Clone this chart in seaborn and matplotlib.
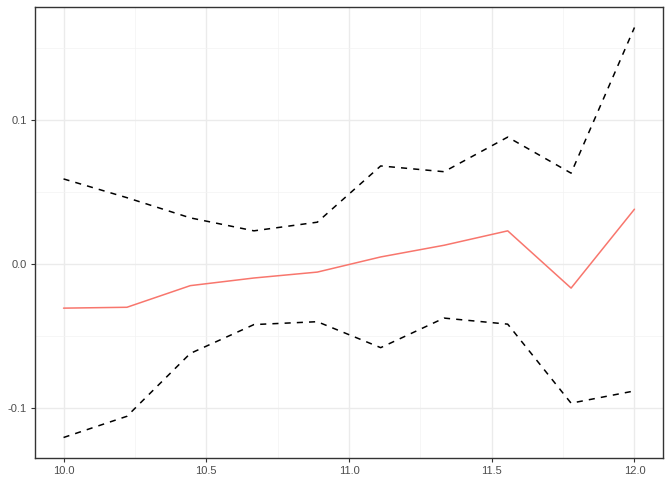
import matplotlib
matplotlib.use("Agg")
import matplotlib.pyplot as plt
from matplotlib.ticker import MultipleLocator
import numpy as np
import pandas as pd
import seaborn as sns

# values
x = [10.0, 10.222, 10.444, 10.667, 10.889, 11.111, 11.333, 11.556, 11.778, 12.0]
estimate = [-0.0306, -0.0300, -0.0150, -0.0097, -0.0056, 0.0049, 0.0130, 0.0230, -0.0167, 0.0380]
upper = [0.059, 0.046, 0.032, 0.023, 0.029, 0.068, 0.064, 0.088, 0.063, 0.164]
lower = [-0.1203, -0.1056, -0.062, -0.042, -0.040, -0.058, -0.0375, -0.0417, -0.0965, -0.088]

df = pd.DataFrame({"x": x, "estimate": estimate, "upper": upper, "lower": lower})

sns.set_style("white")
plt.rcParams["font.family"] = ["Liberation Sans", "DejaVu Sans"]

fig = plt.figure(figsize=(6.72, 4.8), dpi=100)
ax = fig.add_axes([35 / 672, 22 / 480, 628 / 672, 451 / 480])

sns.lineplot(data=df, x="x", y="upper", ax=ax, color="black", linewidth=1.1,
             linestyle=(0, (4, 4)))
sns.lineplot(data=df, x="x", y="lower", ax=ax, color="black", linewidth=1.1,
             linestyle=(0, (4, 4)))
sns.lineplot(data=df, x="x", y="estimate", ax=ax, color="#F8766D", linewidth=1.1)

# ggplot-like expansion
xr = max(x) - min(x)
ax.set_xlim(min(x) - 0.05 * xr, max(x) + 0.05 * xr)
ymin, ymax = min(lower), max(upper)
yr = ymax - ymin
ax.set_ylim(ymin - 0.05 * yr, ymax + 0.05 * yr)

ax.xaxis.set_major_locator(MultipleLocator(0.5))
ax.xaxis.set_minor_locator(MultipleLocator(0.25))
ax.yaxis.set_major_locator(MultipleLocator(0.1))
ax.yaxis.set_minor_locator(MultipleLocator(0.05))
ax.set_xticks([10.0, 10.5, 11.0, 11.5, 12.0])
ax.set_yticks([-0.1, 0.0, 0.1])
ax.set_yticklabels(["-0.1", "0.0", "0.1"])

ax.grid(True, which="major", color="#EBEBEB", linewidth=1.0)
ax.grid(True, which="minor", color="#F3F3F3", linewidth=0.5)
ax.set_axisbelow(True)

for s in ax.spines.values():
    s.set_color("#333333")
    s.set_linewidth(1.0)
    s.set_visible(True)

ax.tick_params(axis="both", which="major", length=3, width=0.8, color="#333333",
               labelsize=8, labelcolor="#4D4D4D", pad=3, bottom=True, left=True)
ax.tick_params(axis="both", which="minor", length=0)
ax.set_xlabel("")
ax.set_ylabel("")

fig.savefig("out.png", dpi=100)
